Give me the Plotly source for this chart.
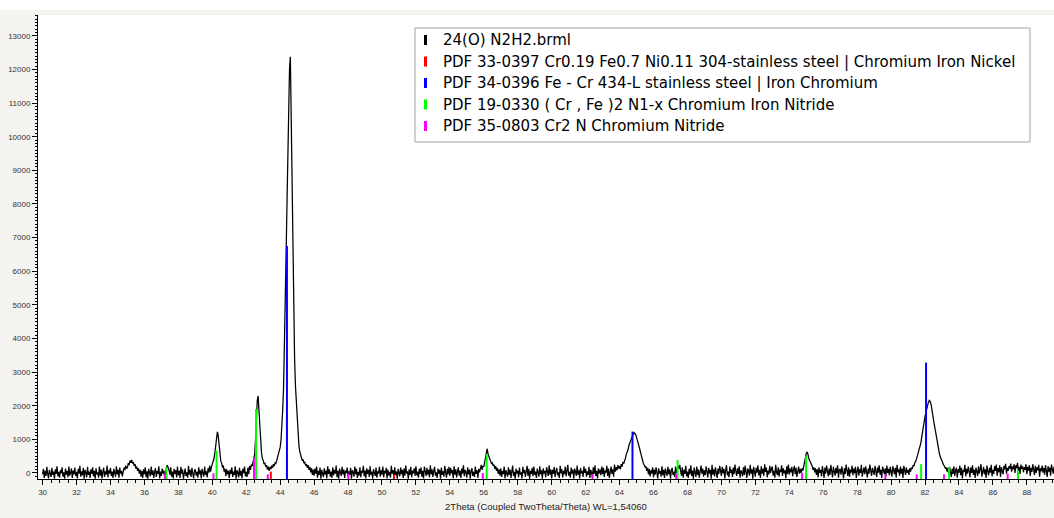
import numpy as np
import plotly.graph_objects as go

# ---------------- data ----------------
TWO_THETA_START = 30.0
TWO_THETA_STEP = 0.05

# measured counts, one row per degree (x.00, x.05, ... x.95)
counts_rows = [
    [-40, 120, -150, 60, -90, 180, -20, -160, 90, 10, -120, 150, -60, 40, -170, 110, -30, 200, -100, 30],       # 30
    [-140, 80, -10, 170, -110, 20, -170, 130, -50, 60, -130, 190, -80, 0, 140, -150, 70, -40, 160, -90],        # 31
    [30, -160, 120, -20, 210, -110, 50, -70, 150, -170, 90, 10, -130, 180, -60, 40, -150, 110, -30, 170],       # 32
    [-100, 60, -170, 140, -40, 20, -140, 190, -80, 100, -160, 30, 160, -120, 50, -50, 220, -130, 80, -20],      # 33
    [150, -90, 40, -150, 120, 10, -110, 200, -40, 90, -140, 160, -20, 60, -100, 40, 160, 90, 220, 130],         # 34
    [160, 290, 230, 370, 300, 390, 280, 320, 210, 260, 130, 190, 60, 140, -20, 90, -110, 60, -150, 110],        # 35
    [-40, 170, -130, 50, -170, 120, 0, -100, 190, -60, 80, -150, 30, 140, -120, 60, -30, 200, -160, 40],        # 36
    [-90, 130, -20, 70, -140, 100, 150, 230, 160, 90, -50, 170, -110, 40, -160, 120, -30, 80, -130, 190],       # 37
    [-70, 60, -150, 180, -20, 100, -170, 40, 130, -90, 20, -140, 210, -50, 90, -120, 150, -10, -160, 70],       # 38
    [110, -80, 30, -140, 170, -40, 80, -160, 120, 0, -110, 190, -60, 50, -130, 140, 10, 220, 40, 180],          # 39
    [260, 340, 430, 590, 800, 1030, 1220, 1110, 760, 520, 350, 300, 160, 220, 40, 130, -90, 110, -40, 60],      # 40
    [-150, 90, -30, 170, -120, 40, -60, 200, -170, 80, 10, -130, 150, -80, 60, -160, 120, -10, 190, -100],      # 41
    [30, -120, 160, -40, 210, 90, 250, 200, 330, 420, 560, 1000, 1800, 2150, 2290, 1750, 1350, 900, 600, 430],  # 42
    [380, 260, 300, 180, 230, 100, 190, 60, 170, 110, 220, 150, 260, 200, 300, 280, 380, 420, 520, 620],        # 43
    [760, 980, 1350, 1880, 2550, 3600, 5000, 6500, 7950, 9500, 10900, 12000, 12380, 10500, 8500, 6500, 4700,
     3400, 2600, 2050],                                                                                        # 44
    [1500, 1100, 850, 650, 520, 430, 370, 400, 290, 330, 220, 260, 150, 230, 90, 180, 20, 140, -60, 100],       # 45
    [-80, 130, -20, 190, -140, 60, -60, 160, -170, 90, 10, -120, 140, -50, 70, -160, 200, -30, 110, -110],      # 46
    [40, -150, 170, -70, 90, -20, 220, -130, 60, -170, 130, 0, -90, 180, -40, 100, -150, 70, -10, 160],         # 47
    [-120, 50, -60, 150, -170, 80, 20, -110, 190, -40, 120, -150, 30, -80, 170, -130, 60, 0, 210, -100],        # 48
    [70, -160, 140, -30, 90, -120, 200, -60, 40, -170, 110, 10, -90, 160, -140, 50, -20, 180, -110, 80],        # 49
    [-50, 190, -130, 60, -10, 150, -160, 100, -70, 30, -140, 210, -20, 80, -120, 170, -60, 40, -170, 120],      # 50
    [0, -100, 160, -40, 90, -150, 130, -80, 220, -20, 50, -170, 110, -60, 180, -130, 70, -10, 140, -90],        # 51
    [200, -70, 40, -140, 120, -30, 170, -110, 60, -160, 190, 0, -90, 150, -50, 90, -130, 230, -40, 110],        # 52
    [-120, 60, 180, -80, 20, -150, 130, -20, 90, -170, 160, -60, 50, -110, 210, 10, -140, 120, -40, 180],       # 53
    [-90, 150, -10, 80, -160, 200, -50, 110, -130, 40, 170, -80, 60, -150, 130, -20, 230, -100, 90, 20],        # 54
    [-140, 170, -40, 100, -170, 60, 140, -90, 30, -120, 190, -30, 80, -150, 120, 20, 120, 240, 90, 210],        # 55
    [180, 300, 420, 620, 720, 560, 470, 380, 330, 280, 300, 210, 250, 120, 200, 60, 150, -30, 110, -80],        # 56
    [140, -120, 60, -40, 190, -160, 80, 10, -110, 170, -60, 100, -150, 40, 220, -90, 30, -170, 130, -20],       # 57
    [70, -130, 160, -50, 20, -160, 180, -10, 90, -120, 50, 210, -80, 120, -170, 60, -30, 150, -100, 190],       # 58
    [-60, 40, -150, 130, 10, -110, 200, -40, 80, -170, 140, -20, 60, -130, 170, 0, -90, 230, -50, 100],         # 59
    [-160, 90, -30, 180, -120, 50, 150, -70, 20, -150, 210, -10, 110, -130, 60, -40, 190, -100, 70, 240],       # 60
    [-80, 30, -140, 160, -20, 100, -170, 130, 40, -90, 220, -50, 80, -160, 150, -10, 60, -120, 200, 0],         # 61
    [120, -110, 50, -60, 180, -150, 90, 20, -130, 170, -30, 230, -90, 60, -160, 140, -20, 100, -70, 190],       # 62
    [-40, 150, -120, 70, 10, 210, -90, 130, -150, 60, 190, -30, 110, -110, 250, 40, 170, 80, 230, 130],         # 63
    [200, 110, 260, 190, 320, 280, 420, 450, 560, 610, 690, 820, 900, 960, 1050, 1120, 1150, 1200, 1170, 1150], # 64
    [1060, 980, 900, 800, 690, 580, 460, 370, 290, 240, 170, 200, 60, 150, -40, 120, -100, 80, -20, 170],       # 65
    [-130, 100, -50, 170, 20, -160, 140, -20, 60, -110, 200, -70, 90, -150, 130, 0, -90, 180, -40, 110],        # 66
    [-170, 60, 150, -60, 30, -120, 190, -10, 80, 200, 130, 240, 50, -80, 170, -140, 90, -30, 210, -100],        # 67
    [40, -150, 120, -40, 230, -90, 70, -170, 160, 10, -120, 190, -60, 100, -140, 50, 220, -20, 130, -110],      # 68
    [80, -60, 200, 30, -130, 150, -20, 90, -170, 240, -50, 110, -100, 170, 20, -150, 130, -30, 210, 60],        # 69
    [-90, 180, -10, 120, -160, 70, 230, -70, 40, -130, 190, 0, 100, -120, 160, -40, 250, 50, -90, 140],         # 70
    [-30, 200, -140, 80, 20, -100, 170, -60, 220, 30, -150, 130, 60, -80, 240, -20, 110, -170, 180, 40],        # 71
    [-110, 150, 10, 230, -70, 90, -150, 200, -20, 120, -90, 260, 30, 160, -130, 70, -40, 210, 0, 120],          # 72
    [190, -80, 60, -140, 240, 20, -60, 170, -110, 100, 30, 230, -90, 140, -10, 80, -160, 200, -30, 250],        # 73
    [-50, 130, 20, 180, -100, 90, 210, -40, 150, -120, 60, 190, -20, 120, 0, 140, 60, 200, 280, 450],           # 74
    [580, 620, 560, 430, 380, 320, 250, 210, 90, 170, 20, 140, -60, 110, -130, 170, 0, 90, -100, 200],          # 75
    [40, -150, 160, -20, 220, 70, -100, 130, -60, 240, 10, -130, 180, 50, -80, 150, -10, 230, -140, 90],        # 76
    [120, -50, 200, 20, -160, 140, -30, 250, 60, -90, 170, -120, 100, 10, 220, -70, 130, -10, 180, -150],       # 77
    [60, 190, -80, 110, 0, 240, -110, 80, 160, -40, 200, 30, -130, 130, -20, 250, 70, -90, 150, 20],            # 78
    [-60, 210, 40, -120, 160, 10, 230, -50, 90, -150, 190, 60, -30, 140, -100, 220, 0, 120, -70, 180],          # 79
    [30, -110, 200, 80, -40, 150, -140, 240, 20, 110, -80, 190, -20, 130, -150, 210, 60, -60, 170, 0],          # 80
    [90, -60, 140, 40, 160, 120, 230, 200, 310, 340, 420, 500, 590, 650, 760, 880, 1050, 1250, 1400, 1550],     # 81
    [1680, 1800, 1930, 2020, 2100, 2160, 2130, 2050, 1930, 1750, 1580, 1420, 1250, 1100, 960, 820, 680, 570,
     480, 410],                                                                                                # 82
    [330, 290, 230, 200, 130, 160, 40, 150, -60, 180, 20, -120, 130, -30, 200, -90, 70, 160, -140, 110],        # 83
    [10, 220, -70, 150, -160, 90, 30, 240, -100, 120, -20, 190, 60, -130, 170, 0, 230, -60, 100, -150],         # 84
    [160, 40, -90, 200, -20, 130, 260, -110, 70, 180, -40, 110, -150, 220, 50, -70, 150, 10, 240, -100],        # 85
    [90, -30, 200, 60, 250, -80, 140, 20, 230, -120, 170, 80, -40, 210, 110, 270, -20, 150, 60, 200],           # 86
    [130, 280, 40, 190, 110, 260, 0, 230, 140, 300, 60, 180, -30, 250, 120, 200, 20, 170, 90, 260],             # 87
    [-40, 180, 70, 230, -90, 150, 30, 260, 100, -60, 210, 0, 170, 80, 240, -110, 140, 50, 220, 10],             # 88
    [150, -50, 230, 90, -120, 200, 40, 160, -80, 250, 110, -20, 190, 60, 240, -70, 130, 30, 210, 90],           # 89
    [120],                                                                                                     # 90
]
for i, r in enumerate(counts_rows[:-1]):
    if len(r) != 20:
        raise ValueError(f"row {30 + i} has {len(r)} values")
counts = [v for r in counts_rows for v in r]
two_theta = np.round(TWO_THETA_START + TWO_THETA_STEP * np.arange(len(counts)), 2)

# reference patterns (stick positions, 2theta / stick tops, counts)
pdf_33_0397_pos = [43.45, 50.71]
pdf_33_0397_int = [40, -50]
pdf_34_0396_pos = [44.40, 64.76, 82.06]
pdf_34_0396_int = [6750, 1230, 3280]
pdf_19_0330_pos = [37.30, 40.25, 42.58, 56.17, 67.42, 74.99, 81.77, 83.42, 87.48]
pdf_19_0330_int = [170, 665, 1900, 565, 390, 500, 260, 170, 80]
pdf_35_0803_pos = [37.20, 40.07, 42.46, 43.27, 48.02, 55.94, 62.41, 67.33, 74.76,
                   79.66, 81.51, 83.12, 86.87]
pdf_35_0803_int = [-20, -10, 440, -40, -20, 0, -40, -20, 0, -40, -40, -40, -20]

legend_labels = [
    "24(O) N2H2.brml",
    "PDF 33-0397 Cr0.19 Fe0.7 Ni0.11 304-stainless steel | Chromium Iron Nickel",
    "PDF 34-0396 Fe - Cr 434-L stainless steel | Iron Chromium",
    "PDF 19-0330 ( Cr , Fe )2 N1-x Chromium Iron Nitride",
    "PDF 35-0803 Cr2 N Chromium Nitride",
]
legend_colors = ["#000000", "#ff0000", "#0000ff", "#00ff00", "#ff00ff"]

x_ticks = list(range(30, 90, 2))
y_ticks = list(range(0, 14000, 1000))

X_RANGE = [29.73, 89.6]
Y_RANGE = [-180, 13620]

# ---------------- figure ----------------
W, H = 1054, 518
PLOT_L, PLOT_R, PLOT_T, PLOT_B = 38, 1054, 15, 479


def px_x(px):
    return (px - PLOT_L) / (PLOT_R - PLOT_L)


def px_y(py):
    return (PLOT_B - py) / (PLOT_B - PLOT_T)


fig = go.Figure()
fig.add_trace(go.Scatter(x=two_theta, y=counts, mode="lines",
                         line=dict(color="#000000", width=1.25), name=legend_labels[0],
                         showlegend=False, hoverinfo="x+y"))


def sticks(pos, tops, color, name):
    xs, ys = [], []
    for p, t in zip(pos, tops):
        xs += [p, p, None]
        ys += [Y_RANGE[0], t, None]
    fig.add_trace(go.Scatter(x=xs, y=ys, mode="lines", line=dict(color=color, width=2),
                             name=name, showlegend=False))


sticks(pdf_33_0397_pos, pdf_33_0397_int, legend_colors[1], legend_labels[1])
sticks(pdf_34_0396_pos, pdf_34_0396_int, legend_colors[2], legend_labels[2])
sticks(pdf_19_0330_pos, pdf_19_0330_int, legend_colors[3], legend_labels[3])
sticks(pdf_35_0803_pos, pdf_35_0803_int, legend_colors[4], legend_labels[4])

tick_font = dict(family="Liberation Sans Narrow, Arial Narrow, Liberation Sans, sans-serif",
                 size=8, color="#333333")

fig.update_layout(
    width=W, height=H,
    margin=dict(l=PLOT_L, r=W - PLOT_R, t=PLOT_T, b=H - PLOT_B, pad=0),
    paper_bgcolor="#f4f3ef", plot_bgcolor="#ffffff",
    showlegend=False,
    xaxis=dict(range=X_RANGE, tickvals=x_ticks, ticktext=[str(v) for v in x_ticks],
               showgrid=False, zeroline=False, showline=True, linecolor="#000000",
               linewidth=1, ticks="outside", ticklen=5, tickcolor="#000000",
               tickfont=tick_font, automargin=False,
               minor=dict(dtick=0.5, tick0=30, ticks="outside", ticklen=3,
                          tickcolor="#000000", showgrid=False),
               title=dict(text="2Theta (Coupled TwoTheta/Theta) WL=1,54060",
                          font=dict(family="Liberation Sans, Arial, sans-serif",
                                    size=9.5, color="#222222"),
                          standoff=7)),
    yaxis=dict(range=Y_RANGE, tickvals=y_ticks, ticktext=[str(v) for v in y_ticks],
               showgrid=False, zeroline=False, showline=True, linecolor="#000000",
               linewidth=1, ticks="outside", ticklen=5, tickcolor="#000000",
               tickfont=tick_font, automargin=False,
               minor=dict(dtick=100, tick0=0, ticks="outside", ticklen=2,
                          tickcolor="#000000", showgrid=False)),
)

# white strip above the chart frame
fig.add_shape(type="rect", xref="paper", yref="paper", x0=px_x(0), x1=px_x(W),
              y0=px_y(10), y1=px_y(0), fillcolor="#ffffff", line=dict(width=0), layer="below")

# legend box (drawn like the instrument software)
LEG_L, LEG_R, LEG_T, LEG_B = 415, 1030, 28, 142
fig.add_shape(type="rect", xref="paper", yref="paper", x0=px_x(LEG_L), x1=px_x(LEG_R),
              y0=px_y(LEG_B), y1=px_y(LEG_T), fillcolor="#ffffff",
              line=dict(color="#9aa3b0", width=1))
ROW0, ROW_GAP = 40, 21.5
for i, (lab, col) in enumerate(zip(legend_labels, legend_colors)):
    cy = ROW0 + i * ROW_GAP
    fig.add_shape(type="rect", xref="paper", yref="paper", x0=px_x(424), x1=px_x(427),
                  y0=px_y(cy + 5), y1=px_y(cy - 5), fillcolor=col, line=dict(width=0))
    fig.add_annotation(xref="paper", yref="paper", x=px_x(441), y=px_y(cy),
                       xanchor="left", yanchor="middle", showarrow=False, text=lab,
                       font=dict(family="DejaVu Sans, sans-serif", size=15, color="#000000"))

fig.write_html("out.html", config={"displayModeBar": False},
               post_script="document.body.style.margin='0';document.body.style.padding='0';")
